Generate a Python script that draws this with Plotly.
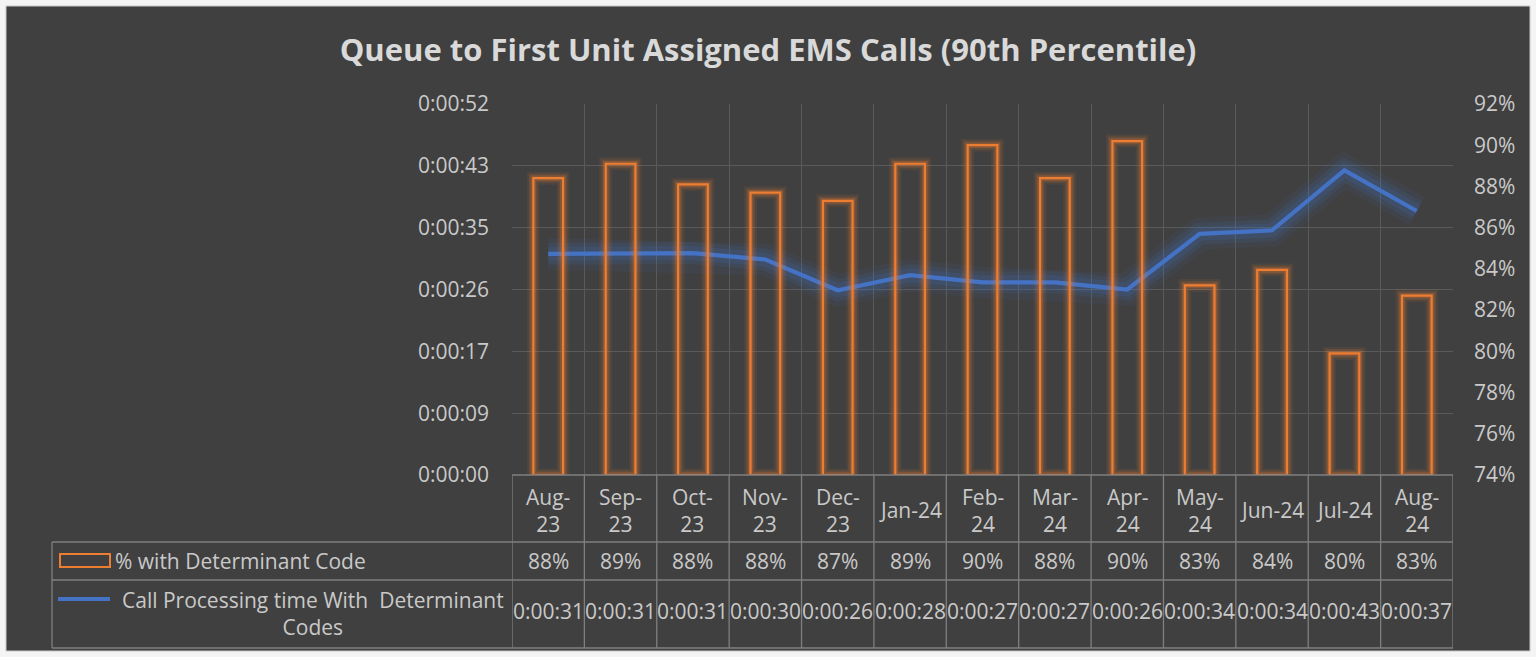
import plotly.graph_objects as go

# ---------------- data ----------------
categories = ["Aug-23", "Sep-23", "Oct-23", "Nov-23", "Dec-23", "Jan-24", "Feb-24",
              "Mar-24", "Apr-24", "May-24", "Jun-24", "Jul-24", "Aug-24"]
category_labels = ["Aug-<br>23", "Sep-<br>23", "Oct-<br>23", "Nov-<br>23", "Dec-<br>23", "Jan-24",
                   "Feb-<br>24", "Mar-<br>24", "Apr-<br>24", "May-<br>24", "Jun-24", "Jul-24", "Aug-<br>24"]
pct_determinant = [88.4, 89.1, 88.1, 87.7, 87.3, 89.1, 90.0, 88.4, 90.2, 83.2, 83.95, 79.9, 82.7]
processing_seconds = [31.0, 31.0, 31.1, 30.2, 25.9, 28.0, 27.0, 27.0, 26.0, 33.8, 34.3, 42.7, 37.0]
left_tick_labels = ["0:00:00", "0:00:09", "0:00:17", "0:00:26", "0:00:35", "0:00:43", "0:00:52"]
pct_series_name = "% with Determinant Code"
time_series_name = "Call Processing time With  Determinant<br>Codes"
title_text = "Queue to First Unit Assigned EMS Calls (90th Percentile)"

# ---------------- layout constants ----------------
W, H = 1536, 657
L, R, T, B = 512, 83, 104, 182
PW, PH = W - L - R, H - T - B
TXT = "#c9c9c9"
FONT = "Open Sans"
FS = 21
ORANGE = "#ED7D31"
BLUE = "#4472C4"
TABLE_LINE = "#7f7f7f"


def xp(px):
    return (px - L) / PW


def yp(py):
    return (H - B - py) / PH


def fmt_time(s):
    s = int(round(s))
    return f"0:{s // 60:02d}:{s % 60:02d}"


Y2_MIN, Y2_MAX = 74, 92
Y_MAX = 52

fig = go.Figure()

# glow layers for bars
for w, a in [(13, 0.08), (9, 0.14), (5.5, 0.25)]:
    fig.add_trace(go.Bar(
        x=categories, y=[v - Y2_MIN for v in pct_determinant], base=Y2_MIN,
        yaxis="y2", width=0.41,
        marker=dict(color="rgba(0,0,0,0)", line=dict(color=f"rgba(237,125,49,{a})", width=w)),
        showlegend=False, hoverinfo="skip"))
fig.add_trace(go.Bar(
    x=categories, y=[v - Y2_MIN for v in pct_determinant], base=Y2_MIN,
    yaxis="y2", width=0.41, name=pct_series_name,
    marker=dict(color="rgba(0,0,0,0)", line=dict(color=ORANGE, width=2.2)),
    showlegend=False))

# glow layers for the line
for w, a in [(32, 0.08), (22, 0.11), (14, 0.17)]:
    fig.add_trace(go.Scatter(
        x=categories, y=processing_seconds, mode="lines",
        line=dict(color=f"rgba(68,114,196,{a})", width=w),
        showlegend=False, hoverinfo="skip"))
fig.add_trace(go.Scatter(
    x=categories, y=processing_seconds, mode="lines", name="Call Processing time",
    line=dict(color=BLUE, width=4.2), showlegend=False))

shapes = []
# background frame
shapes.append(dict(type="rect", xref="paper", yref="paper",
                   x0=xp(6), x1=xp(1530), y0=yp(651), y1=yp(6),
                   fillcolor="#404040", line=dict(color="#c8c8c8", width=1), layer="below"))

# data table lines
n = len(categories)
for py in [542, 580, 648]:
    shapes.append(dict(type="line", xref="paper", yref="paper", x0=xp(52), x1=xp(L + PW),
                       y0=yp(py), y1=yp(py), line=dict(color=TABLE_LINE, width=1.3)))
shapes.append(dict(type="line", xref="paper", yref="paper", x0=0, x1=1,
                   y0=0, y1=0, line=dict(color=TABLE_LINE, width=1.3)))
shapes.append(dict(type="line", xref="paper", yref="paper", x0=xp(52), x1=xp(52),
                   y0=yp(542), y1=yp(648), line=dict(color=TABLE_LINE, width=1.3)))
for k in range(n + 1):
    shapes.append(dict(type="line", xref="x", yref="paper", x0=k - 0.5, x1=k - 0.5,
                       y0=0, y1=yp(648), line=dict(color=TABLE_LINE, width=1.3)))

# legend keys
shapes.append(dict(type="rect", xref="paper", yref="paper", x0=xp(60), x1=xp(110),
                   y0=yp(567), y1=yp(554), line=dict(color=ORANGE, width=2),
                   fillcolor="rgba(0,0,0,0)"))
shapes.append(dict(type="line", xref="paper", yref="paper", x0=xp(58), x1=xp(110),
                   y0=yp(599), y1=yp(599), line=dict(color=BLUE, width=4)))

annotations = []
for i, c in enumerate(categories):
    annotations.append(dict(x=c, xref="x", y=yp(510), yref="paper", text=category_labels[i],
                            showarrow=False, font=dict(size=FS, color=TXT, family=FONT),
                            xanchor="center", yanchor="middle", align="center"))
    annotations.append(dict(x=c, xref="x", y=yp(561), yref="paper",
                            text=f"{int(round(pct_determinant[i]))}%",
                            showarrow=False, font=dict(size=FS, color=TXT, family=FONT),
                            xanchor="center", yanchor="middle"))
    annotations.append(dict(x=c, xref="x", y=yp(611), yref="paper",
                            text=fmt_time(processing_seconds[i]),
                            showarrow=False, font=dict(size=FS, color=TXT, family=FONT),
                            xanchor="center", yanchor="middle"))

annotations.append(dict(x=xp(113), xref="paper", y=yp(561), yref="paper", text=pct_series_name,
                        showarrow=False, font=dict(size=FS, color=TXT, family=FONT),
                        xanchor="left", yanchor="middle"))
annotations.append(dict(x=xp(313), xref="paper", y=yp(613), yref="paper", text=time_series_name,
                        showarrow=False, font=dict(size=FS, color=TXT, family=FONT),
                        xanchor="center", yanchor="middle", align="center"))

fig.update_layout(
    width=W, height=H,
    margin=dict(l=L, r=R, t=T, b=B, autoexpand=False),
    paper_bgcolor="#f4f4f4", plot_bgcolor="rgba(0,0,0,0)",
    barmode="overlay",
    title=dict(text=f"<b>{title_text}</b>", x=0.5, xref="container", xanchor="center",
               y=1 - 50 / H, yref="container", yanchor="middle",
               font=dict(size=31, color="#d9d9d9", family=FONT)),
    font=dict(family=FONT, color=TXT),
    xaxis=dict(type="category", range=[-0.5, n - 0.5], showticklabels=False,
               tickson="boundaries", ticks="", showgrid=True, gridcolor="#5a5a5a",
               gridwidth=1.3, zeroline=False, showline=False, fixedrange=True),
    yaxis=dict(range=[0, Y_MAX], tickvals=[Y_MAX * i / 6 for i in range(7)],
               ticktext=left_tick_labels, showgrid=True, gridcolor="#5a5a5a", gridwidth=1.3,
               zeroline=False, showline=False, tickfont=dict(size=FS, color=TXT, family=FONT),
               ticklabelstandoff=22),
    yaxis2=dict(range=[Y2_MIN, Y2_MAX], dtick=2, ticksuffix="%", overlaying="y", side="right",
                showgrid=False, zeroline=False, showline=False,
                tickfont=dict(size=FS, color=TXT, family=FONT), ticklabelstandoff=20),
    shapes=shapes, annotations=annotations, showlegend=False,
)

fig.write_html("out.html", post_script="document.body.style.margin='0';",
               config={"displayModeBar": False})
